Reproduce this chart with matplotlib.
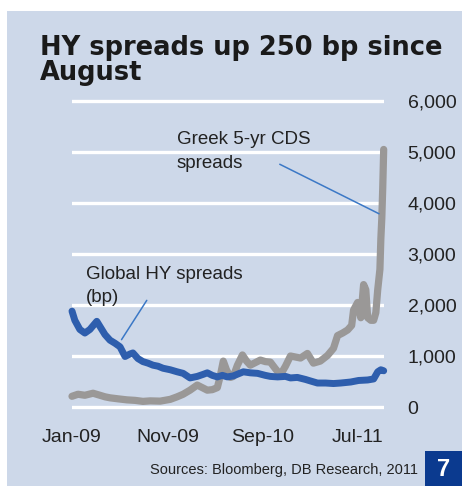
import matplotlib
matplotlib.use("Agg")
import matplotlib.pyplot as plt
import pandas as pd
from matplotlib.patches import Rectangle

# ---- data ----
hy_dates = ["2009-01-01","2009-01-10","2009-01-26","2009-02-11","2009-02-27","2009-03-21","2009-03-31",
            "2009-04-16","2009-05-02","2009-05-18","2009-06-03","2009-06-19","2009-07-05","2009-07-14",
            "2009-07-30","2009-08-15","2009-08-31","2009-09-16","2009-10-02","2009-10-18","2009-11-10",
            "2009-12-02","2009-12-21","2010-01-12","2010-02-04","2010-02-23","2010-03-08","2010-03-24",
            "2010-04-09","2010-04-25","2010-05-11","2010-05-30","2010-06-15","2010-07-01","2010-07-23",
            "2010-08-15","2010-09-09","2010-09-25","2010-10-18","2010-11-12","2010-11-28","2010-12-20",
            "2011-01-15","2011-01-31","2011-02-22","2011-03-20","2011-04-14","2011-05-07","2011-06-08",
            "2011-07-03","2011-08-01","2011-08-20","2011-09-02","2011-09-12","2011-09-21"]
hy_values = [1880,1700,1520,1450,1520,1680,1580,
             1420,1310,1250,1180,990,1040,1060,
             950,890,860,820,800,760,730,
             690,660,570,600,640,670,620,
             590,620,590,610,650,690,670,
             660,620,600,590,600,570,580,
             540,510,470,470,460,470,490,
             520,530,550,690,730,710]

cds_dates = ["2009-01-01","2009-01-20","2009-02-11","2009-03-09","2009-03-31","2009-04-16","2009-05-02",
             "2009-05-28","2009-06-25","2009-07-21","2009-08-15","2009-09-07","2009-10-09","2009-11-10",
             "2009-12-02","2009-12-21","2010-01-12","2010-02-04","2010-02-20","2010-03-08","2010-03-24",
             "2010-04-09","2010-04-18","2010-04-28","2010-05-08","2010-05-21","2010-05-30","2010-06-12",
             "2010-06-28","2010-07-11","2010-07-23","2010-08-08","2010-08-24","2010-09-09","2010-09-25",
             "2010-10-11","2010-10-27","2010-11-12","2010-11-28","2010-12-14","2010-12-30","2011-01-21",
             "2011-02-09","2011-03-03","2011-03-26","2011-04-14","2011-04-27","2011-05-13","2011-05-29",
             "2011-06-11","2011-06-17","2011-06-30","2011-07-10","2011-07-19","2011-07-26","2011-08-01",
             "2011-08-11","2011-08-20","2011-08-27","2011-09-02","2011-09-09","2011-09-12","2011-09-15",
             "2011-09-18","2011-09-21"]
cds_values = [210,250,230,270,230,200,180,
              160,140,130,110,120,115,150,
              200,250,330,430,380,330,340,
              380,600,900,730,580,600,820,
              1020,900,820,870,920,890,880,
              750,630,800,1000,980,960,1050,
              860,900,1010,1150,1400,1450,1510,
              1600,1900,2050,1750,2400,2300,1750,
              1700,1700,1850,2300,2700,3300,3700,
              4300,5050]

x_ticks = ["2009-01-01","2009-11-01","2010-09-01","2011-07-01"]
x_ticklabels = ["Jan-09","Nov-09","Sep-10","Jul-11"]
y_ticks = [0,1000,2000,3000,4000,5000,6000]
y_ticklabels = ["0","1,000","2,000","3,000","4,000","5,000","6,000"]

title = "HY spreads up 250 bp since\nAugust"
source = "Sources: Bloomberg, DB Research, 2011"

# ---- style ----
W, H = 462, 486
BG = "#cdd8e9"
BLUE = "#2e5ead"
GREY = "#9a9897"
FONT = "Liberation Sans"

fig = plt.figure(figsize=(W/100, H/100), dpi=100)
fig.patch.set_facecolor("white")
fig.patches.append(Rectangle((7/W, 0), 1-7/W, 1-11/H, transform=fig.transFigure,
                             facecolor=BG, edgecolor="none", zorder=-10))
fig.patches.append(Rectangle((425/W, 0), 37/W, 35/H, transform=fig.transFigure,
                             facecolor="#0b3a8f", edgecolor="none", zorder=-5))
fig.text(443.5/W, 1-469/H, "7", color="white", fontsize=17, fontweight="bold",
         family=FONT, ha="center", va="center")

# axes: x px 72..384 ; y value 0 at px 407, 6000 at px 101
ymin, ymax = -300, 6100
ppv = (407-101)/6000
top_px = 407 - ymax*ppv
bot_px = 407 - ymin*ppv
ax = fig.add_axes([72/W, 1-bot_px/H, (384-72)/W, (bot_px-top_px)/H])
ax.set_facecolor("none")
for s in ax.spines.values():
    s.set_visible(False)

hd = pd.to_datetime(hy_dates)
cd = pd.to_datetime(cds_dates)

for yv in y_ticks:
    ax.axhline(yv, color="white", lw=2.4, zorder=1)

ax.plot(cd, cds_values, color=GREY, lw=5.2, solid_joinstyle="round",
        solid_capstyle="round", zorder=3, clip_on=False)
ax.plot(hd, hy_values, color=BLUE, lw=5.0, solid_joinstyle="round",
        solid_capstyle="round", zorder=4, clip_on=False)

ax.set_xlim(pd.Timestamp("2009-01-01"), pd.Timestamp("2011-09-22"))
ax.set_ylim(ymin, ymax)

ax.set_xticks(pd.to_datetime(x_ticks))
ax.set_xticklabels(x_ticklabels, family=FONT, fontsize=14, color="#222222")
ax.tick_params(axis="x", length=0, pad=5)
ax.yaxis.tick_right()
ax.set_yticks(y_ticks)
ax.set_yticklabels(y_ticklabels, family=FONT, fontsize=14, color="#222222")
ax.tick_params(axis="y", length=0, pad=17)

# annotations (leader lines)
ax.annotate("", xy=(pd.Timestamp("2011-09-14"), 3765), xytext=(pd.Timestamp("2010-10-17"), 4784),
            arrowprops=dict(arrowstyle="-", color="#3b78c6", lw=1.1), zorder=5)
ax.annotate("", xy=(pd.Timestamp("2009-06-03"), 1275), xytext=(pd.Timestamp("2009-09-01"), 2137),
            arrowprops=dict(arrowstyle="-", color="#3b78c6", lw=1.1), zorder=5)
fig.text(177/W, 1-131/H, "Greek 5-yr CDS\nspreads", family=FONT, fontsize=13.5,
         color="#222222", ha="left", va="top", linespacing=1.5)
fig.text(86/W, 1-266/H, "Global HY spreads\n(bp)", family=FONT, fontsize=13.5,
         color="#222222", ha="left", va="top", linespacing=1.5)

fig.text(40/W, 1-35/H, title, family="DejaVu Sans", fontsize=18.5, fontweight="bold",
         color="#1a1a1a", ha="left", va="top", linespacing=0.95)
fig.text(418/W, 1-470/H, source, family=FONT, fontsize=10.5, color="#222222",
         ha="right", va="center")

fig.savefig("out.png", dpi=100, facecolor=fig.get_facecolor())
